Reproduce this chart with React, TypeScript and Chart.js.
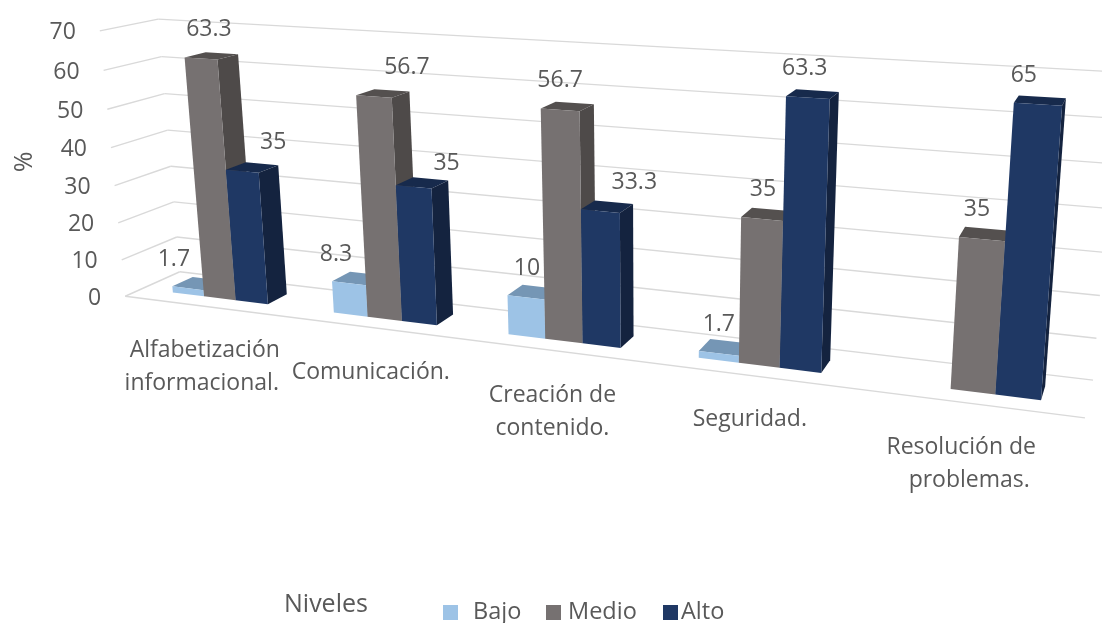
import React, { useEffect, useRef } from "react";
import { Chart, registerables } from "chart.js";

Chart.register(...registerables);

const categories: string[][] = [
  ["Alfabetización", "informacional."],
  ["Comunicación."],
  ["Creación de", "contenido."],
  ["Seguridad."],
  ["Resolución de", "problemas."],
];
const bajo = [1.7, 8.3, 10, 1.7, null];
const medio = [63.3, 56.7, 56.7, 35, 35];
const alto = [35, 35, 33.3, 63.3, 65];
const seriesNames = ["Bajo", "Medio", "Alto"];

const FRONT = ["#9DC3E6", "#767171", "#1F3864"];
const TOP = ["#7596B5", "#54504F", "#172A4C"];
const SIDE = ["#7596B5", "#4E4A49", "#14233F"];
const TEXT = "#595959";
const GRID = "#D9D9D9";
const FONT = '"Open Sans", sans-serif';

// Camera fit: unit box corners (across, up, depth) to where they appear on the page.
const CAMERA: number[][] = [
  [0, 0, 0, 125, 296],
  [0, 1, 0, 100, 31],
  [0, 0, 1, 180, 272],
  [0, 1, 1, 158, 19],
  [1, 0, 1, 1093, 380],
  [1, 1, 1, 1118, 72],
  [1, 0, 0, 1085, 418],
];
const BAR_FRONT = 0.3;
const BAR_BACK = 0.68;

// Label placement relative to the top of a bar's front face.
const LABEL_DX = [
  [-14, 8, 31],
  [-13, 33, 33],
  [1, 0, 34],
  [0, 1, -3],
  [0, -5, -14],
];
const LABEL_DY = [
  [-29, -29, -29],
  [-29, -29, -23],
  [-29, -29, -29],
  [-29, -29, -29],
  [-29, -30, -29],
];
const CATEGORY_OFFSET: number[][][] = [
  [[1, 44], [-2, 44]],
  [[0, 45]],
  [[0, 45], [0, 45]],
  [[-1, 44]],
  [[-7, 44], [1, 44]],
];

function solveCamera(points: number[][]): number[] {
  const rows: number[][] = [];
  for (const [u, v, w, x, y] of points) {
    rows.push([u, v, w, 1, 0, 0, 0, 0, -x * u, -x * v, -x * w, x]);
    rows.push([0, 0, 0, 0, u, v, w, 1, -y * u, -y * v, -y * w, y]);
  }
  const n = 11;
  const a: number[][] = Array.from({ length: n }, () => new Array(n + 1).fill(0));
  for (const r of rows) {
    for (let i = 0; i < n; i++) {
      for (let j = 0; j <= n; j++) a[i][j] += r[i] * r[j];
    }
  }
  for (let c = 0; c < n; c++) {
    let p = c;
    for (let i = c + 1; i < n; i++) if (Math.abs(a[i][c]) > Math.abs(a[p][c])) p = i;
    [a[c], a[p]] = [a[p], a[c]];
    for (let i = 0; i < n; i++) {
      if (i === c) continue;
      const f = a[i][c] / a[c][c];
      for (let j = c; j <= n; j++) a[i][j] -= f * a[c][j];
    }
  }
  return a.map((r, i) => r[n] / r[i]);
}

const M = solveCamera(CAMERA);
function project(u: number, v: number, w: number): [number, number] {
  const d = M[8] * u + M[9] * v + M[10] * w + 1;
  return [
    (M[0] * u + M[1] * v + M[2] * w + M[3]) / d,
    (M[4] * u + M[5] * v + M[6] * w + M[7]) / d,
  ];
}

function poly(ctx: CanvasRenderingContext2D, pts: [number, number][], fill: string) {
  ctx.beginPath();
  pts.forEach((p, i) => (i ? ctx.lineTo(p[0], p[1]) : ctx.moveTo(p[0], p[1])));
  ctx.closePath();
  ctx.fillStyle = fill;
  ctx.fill();
}

function segment(ctx: CanvasRenderingContext2D, a: [number, number], b: [number, number]) {
  ctx.beginPath();
  ctx.moveTo(a[0], a[1]);
  ctx.lineTo(b[0], b[1]);
  ctx.stroke();
}

const scene3d = {
  id: "scene3d",
  beforeDatasetsDraw(chart: any) {
    const { ctx, chartArea: area, scales } = chart;
    const toU = (x: number) => (x - area.left) / area.width;
    const toV = (y: number) => (area.bottom - y) / area.height;

    // walls and floor
    ctx.save();
    ctx.strokeStyle = GRID;
    ctx.lineWidth = 1.4;
    for (const t of scales.y.ticks) {
      const v = toV(scales.y.getPixelForValue(t.value));
      segment(ctx, project(0, v, 0), project(0, v, 1));
      segment(ctx, project(0, v, 1), project(1, v, 1));
    }
    segment(ctx, project(0, 0, 0), project(1, 0, 0));

    // value axis labels
    ctx.fillStyle = TEXT;
    ctx.font = `23px ${FONT}`;
    ctx.textAlign = "right";
    ctx.textBaseline = "middle";
    for (const t of scales.y.ticks) {
      const v = toV(scales.y.getPixelForValue(t.value));
      const [x, y] = project(0, v, 0);
      ctx.fillText(String(t.value), x - 24, y + 2);
    }

    // category labels
    ctx.textAlign = "center";
    ctx.font = `23px ${FONT}`;
    categories.forEach((lines, i) => {
      const u = toU(scales.x.getPixelForTick(i));
      const [x, y] = project(u, 0, 0);
      lines.forEach((line, k) => {
        const [dx, dy] = CATEGORY_OFFSET[i][k];
        ctx.fillText(line, x + dx, y + dy + k * 33);
      });
    });

    // bars, left to right so nearer faces overlap correctly
    const metas = chart.getSortedVisibleDatasetMetas();
    categories.forEach((_, i) => {
      metas.forEach((meta: any, s: number) => {
        const el = meta.data[i];
        if (!el || el.skip || chart.data.datasets[s].data[i] == null) return;
        const { x, y, base, width } = el.getProps(["x", "y", "base", "width"], true);
        const u0 = toU(x - width / 2);
        const u1 = toU(x + width / 2);
        const v0 = toV(base);
        const v1 = toV(y);
        const f = BAR_FRONT;
        const b = BAR_BACK;
        poly(ctx, [project(u0, v1, f), project(u1, v1, f), project(u1, v1, b), project(u0, v1, b)], TOP[s]);
        poly(ctx, [project(u1, v0, f), project(u1, v0, b), project(u1, v1, b), project(u1, v1, f)], SIDE[s]);
        poly(ctx, [project(u0, v0, f), project(u1, v0, f), project(u1, v1, f), project(u0, v1, f)], FRONT[s]);
      });
    });

    // value labels
    ctx.fillStyle = TEXT;
    ctx.font = `23px ${FONT}`;
    ctx.textAlign = "center";
    ctx.textBaseline = "middle";
    categories.forEach((_, i) => {
      metas.forEach((meta: any, s: number) => {
        const value = chart.data.datasets[s].data[i];
        if (value == null) return;
        const { x, y } = meta.data[i].getProps(["x", "y"], true);
        const [px, py] = project(toU(x), toV(y), BAR_FRONT);
        ctx.fillText(String(value), px + LABEL_DX[i][s], py + LABEL_DY[i][s]);
      });
    });

    // axis title, series title, legend
    ctx.save();
    ctx.font = `25px ${FONT}`;
    ctx.translate(25, 162);
    ctx.rotate(-Math.PI / 2);
    ctx.fillText("%", 0, 0);
    ctx.restore();

    ctx.font = `25px ${FONT}`;
    ctx.textAlign = "left";
    ctx.fillText("Niveles", 284, 605);
    ctx.font = `23.5px ${FONT}`;
    const squares = [443, 546, 663];
    const labels = [473, 568, 681];
    seriesNames.forEach((name, s) => {
      ctx.fillStyle = FRONT[s];
      ctx.fillRect(squares[s], 605, 15, 15);
      ctx.fillStyle = TEXT;
      ctx.fillText(name, labels[s], 612);
    });
    ctx.restore();
    return false;
  },
};

export default function App() {
  const ref = useRef<HTMLCanvasElement>(null);
  useEffect(() => {
    document.body.style.margin = "0";
    const chart = new Chart(ref.current as HTMLCanvasElement, {
      type: "bar",
      data: {
        labels: categories,
        datasets: [
          { label: seriesNames[0], data: bajo, backgroundColor: FRONT[0] },
          { label: seriesNames[1], data: medio, backgroundColor: FRONT[1] },
          { label: seriesNames[2], data: alto, backgroundColor: FRONT[2] },
        ],
      },
      options: {
        animation: false,
        responsive: false,
        layout: { padding: 0 },
        plugins: { legend: { display: false }, tooltip: { enabled: false } },
        datasets: { bar: { barPercentage: 1, categoryPercentage: 0.6 } },
        scales: {
          x: { display: false },
          y: { display: false, min: 0, max: 70, ticks: { stepSize: 10 } },
        },
      },
      plugins: [scene3d],
    } as any);
    return () => chart.destroy();
  }, []);
  return <canvas ref={ref} width={1102} height={623} style={{ display: "block" }} />;
}
